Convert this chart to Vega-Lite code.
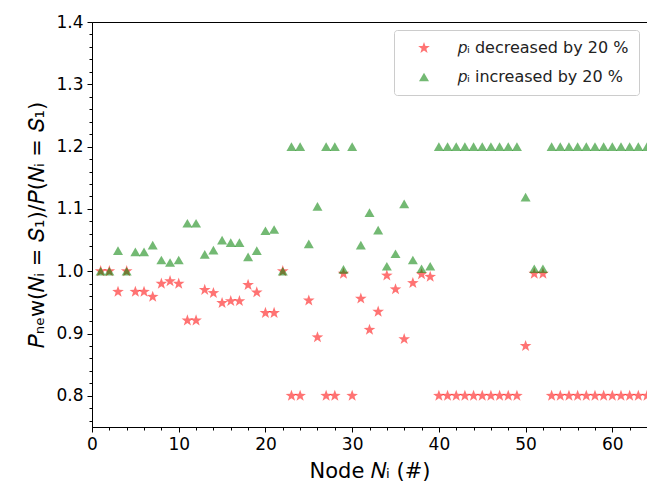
{
  "$schema": "https://vega.github.io/schema/vega-lite/v6.json",
  "width": 555,
  "height": 405,
  "autosize": {"type": "none"},
  "padding": {"left": 92, "top": 22, "right": 0, "bottom": 62},
  "background": "white",
  "config": {
    "font": "DejaVu Sans",
    "view": {"stroke": "black", "strokeWidth": 1},
    "axis": {"grid": false, "domainColor": "black", "tickColor": "black", "labelColor": "black", "titleColor": "black", "labelFont": "DejaVu Sans", "titleFont": "DejaVu Sans", "labelFontSize": 17, "titleFontSize": 21, "titleFontWeight": "normal"}
  },
  "data": {"values": [
    {"node": 1, "series": "dec", "ratio": 1.0},
    {"node": 2, "series": "dec", "ratio": 1.0},
    {"node": 3, "series": "dec", "ratio": 0.967},
    {"node": 4, "series": "dec", "ratio": 1.0},
    {"node": 5, "series": "dec", "ratio": 0.967},
    {"node": 6, "series": "dec", "ratio": 0.967},
    {"node": 7, "series": "dec", "ratio": 0.959},
    {"node": 8, "series": "dec", "ratio": 0.980},
    {"node": 9, "series": "dec", "ratio": 0.984},
    {"node": 10, "series": "dec", "ratio": 0.980},
    {"node": 11, "series": "dec", "ratio": 0.921},
    {"node": 12, "series": "dec", "ratio": 0.921},
    {"node": 13, "series": "dec", "ratio": 0.970},
    {"node": 14, "series": "dec", "ratio": 0.965},
    {"node": 15, "series": "dec", "ratio": 0.949},
    {"node": 16, "series": "dec", "ratio": 0.952},
    {"node": 17, "series": "dec", "ratio": 0.952},
    {"node": 18, "series": "dec", "ratio": 0.978},
    {"node": 19, "series": "dec", "ratio": 0.966},
    {"node": 20, "series": "dec", "ratio": 0.933},
    {"node": 21, "series": "dec", "ratio": 0.933},
    {"node": 22, "series": "dec", "ratio": 1.0},
    {"node": 23, "series": "dec", "ratio": 0.8},
    {"node": 24, "series": "dec", "ratio": 0.8},
    {"node": 25, "series": "dec", "ratio": 0.953},
    {"node": 26, "series": "dec", "ratio": 0.894},
    {"node": 27, "series": "dec", "ratio": 0.8},
    {"node": 28, "series": "dec", "ratio": 0.8},
    {"node": 29, "series": "dec", "ratio": 0.996},
    {"node": 30, "series": "dec", "ratio": 0.8},
    {"node": 31, "series": "dec", "ratio": 0.956},
    {"node": 32, "series": "dec", "ratio": 0.906},
    {"node": 33, "series": "dec", "ratio": 0.935},
    {"node": 34, "series": "dec", "ratio": 0.993},
    {"node": 35, "series": "dec", "ratio": 0.971},
    {"node": 36, "series": "dec", "ratio": 0.891},
    {"node": 37, "series": "dec", "ratio": 0.981},
    {"node": 38, "series": "dec", "ratio": 0.995},
    {"node": 39, "series": "dec", "ratio": 0.991},
    {"node": 40, "series": "dec", "ratio": 0.8},
    {"node": 41, "series": "dec", "ratio": 0.8},
    {"node": 42, "series": "dec", "ratio": 0.8},
    {"node": 43, "series": "dec", "ratio": 0.8},
    {"node": 44, "series": "dec", "ratio": 0.8},
    {"node": 45, "series": "dec", "ratio": 0.8},
    {"node": 46, "series": "dec", "ratio": 0.8},
    {"node": 47, "series": "dec", "ratio": 0.8},
    {"node": 48, "series": "dec", "ratio": 0.8},
    {"node": 49, "series": "dec", "ratio": 0.8},
    {"node": 50, "series": "dec", "ratio": 0.880},
    {"node": 51, "series": "dec", "ratio": 0.996},
    {"node": 52, "series": "dec", "ratio": 0.996},
    {"node": 53, "series": "dec", "ratio": 0.8},
    {"node": 54, "series": "dec", "ratio": 0.8},
    {"node": 55, "series": "dec", "ratio": 0.8},
    {"node": 56, "series": "dec", "ratio": 0.8},
    {"node": 57, "series": "dec", "ratio": 0.8},
    {"node": 58, "series": "dec", "ratio": 0.8},
    {"node": 59, "series": "dec", "ratio": 0.8},
    {"node": 60, "series": "dec", "ratio": 0.8},
    {"node": 61, "series": "dec", "ratio": 0.8},
    {"node": 62, "series": "dec", "ratio": 0.8},
    {"node": 63, "series": "dec", "ratio": 0.8},
    {"node": 64, "series": "dec", "ratio": 0.8},
    {"node": 1, "series": "inc", "ratio": 1.0},
    {"node": 2, "series": "inc", "ratio": 1.0},
    {"node": 3, "series": "inc", "ratio": 1.033},
    {"node": 4, "series": "inc", "ratio": 1.0},
    {"node": 5, "series": "inc", "ratio": 1.031},
    {"node": 6, "series": "inc", "ratio": 1.031},
    {"node": 7, "series": "inc", "ratio": 1.042},
    {"node": 8, "series": "inc", "ratio": 1.018},
    {"node": 9, "series": "inc", "ratio": 1.014},
    {"node": 10, "series": "inc", "ratio": 1.018},
    {"node": 11, "series": "inc", "ratio": 1.077},
    {"node": 12, "series": "inc", "ratio": 1.077},
    {"node": 13, "series": "inc", "ratio": 1.027},
    {"node": 14, "series": "inc", "ratio": 1.034},
    {"node": 15, "series": "inc", "ratio": 1.050},
    {"node": 16, "series": "inc", "ratio": 1.046},
    {"node": 17, "series": "inc", "ratio": 1.046},
    {"node": 18, "series": "inc", "ratio": 1.023},
    {"node": 19, "series": "inc", "ratio": 1.033},
    {"node": 20, "series": "inc", "ratio": 1.065},
    {"node": 21, "series": "inc", "ratio": 1.067},
    {"node": 22, "series": "inc", "ratio": 1.0},
    {"node": 23, "series": "inc", "ratio": 1.2},
    {"node": 24, "series": "inc", "ratio": 1.2},
    {"node": 25, "series": "inc", "ratio": 1.044},
    {"node": 26, "series": "inc", "ratio": 1.104},
    {"node": 27, "series": "inc", "ratio": 1.2},
    {"node": 28, "series": "inc", "ratio": 1.2},
    {"node": 29, "series": "inc", "ratio": 1.003},
    {"node": 30, "series": "inc", "ratio": 1.2},
    {"node": 31, "series": "inc", "ratio": 1.042},
    {"node": 32, "series": "inc", "ratio": 1.094},
    {"node": 33, "series": "inc", "ratio": 1.066},
    {"node": 34, "series": "inc", "ratio": 1.008},
    {"node": 35, "series": "inc", "ratio": 1.028},
    {"node": 36, "series": "inc", "ratio": 1.108},
    {"node": 37, "series": "inc", "ratio": 1.018},
    {"node": 38, "series": "inc", "ratio": 1.004},
    {"node": 39, "series": "inc", "ratio": 1.008},
    {"node": 40, "series": "inc", "ratio": 1.2},
    {"node": 41, "series": "inc", "ratio": 1.2},
    {"node": 42, "series": "inc", "ratio": 1.2},
    {"node": 43, "series": "inc", "ratio": 1.2},
    {"node": 44, "series": "inc", "ratio": 1.2},
    {"node": 45, "series": "inc", "ratio": 1.2},
    {"node": 46, "series": "inc", "ratio": 1.2},
    {"node": 47, "series": "inc", "ratio": 1.2},
    {"node": 48, "series": "inc", "ratio": 1.2},
    {"node": 49, "series": "inc", "ratio": 1.2},
    {"node": 50, "series": "inc", "ratio": 1.119},
    {"node": 51, "series": "inc", "ratio": 1.004},
    {"node": 52, "series": "inc", "ratio": 1.004},
    {"node": 53, "series": "inc", "ratio": 1.2},
    {"node": 54, "series": "inc", "ratio": 1.2},
    {"node": 55, "series": "inc", "ratio": 1.2},
    {"node": 56, "series": "inc", "ratio": 1.2},
    {"node": 57, "series": "inc", "ratio": 1.2},
    {"node": 58, "series": "inc", "ratio": 1.2},
    {"node": 59, "series": "inc", "ratio": 1.2},
    {"node": 60, "series": "inc", "ratio": 1.2},
    {"node": 61, "series": "inc", "ratio": 1.2},
    {"node": 62, "series": "inc", "ratio": 1.2},
    {"node": 63, "series": "inc", "ratio": 1.2},
    {"node": 64, "series": "inc", "ratio": 1.2}
  ]},
  "mark": {"type": "point", "filled": true, "clip": true, "fillOpacity": 0.55, "strokeOpacity": 0.55, "strokeWidth": 1},
  "encoding": {
    "x": {"field": "node", "type": "quantitative",
      "scale": {"domain": [0, 64], "nice": false, "zero": false},
      "axis": {"title": "Node 𝑁ᵢ (#)", "titlePadding": 8,
        "values": [0,2,4,6,8,10,12,14,16,18,20,22,24,26,28,30,32,34,36,38,40,42,44,46,48,50,52,54,56,58,60,62,64],
        "labelExpr": "datum.value % 10 === 0 ? datum.label : ''",
        "tickSize": {"condition": {"test": "datum.value % 10 === 0", "value": 5}, "value": 3},
        "labelPadding": 4, "labelFlush": false, "labelOverlap": false}},
    "y": {"field": "ratio", "type": "quantitative",
      "scale": {"domain": [0.75, 1.4], "nice": false, "zero": false},
      "axis": {"title": "𝑃ₙₑw(𝑁ᵢ = 𝑆₁)/𝑃(𝑁ᵢ = 𝑆₁)", "titlePadding": 8,
        "values": [0.76,0.78,0.8,0.82,0.84,0.86,0.88,0.9,0.92,0.94,0.96,0.98,1.0,1.02,1.04,1.06,1.08,1.1,1.12,1.14,1.16,1.18,1.2,1.22,1.24,1.26,1.28,1.3,1.32,1.34,1.36,1.38,1.4],
        "labelExpr": "round(datum.value*100) % 10 === 0 ? format(datum.value, '.1f') : ''",
        "tickSize": {"condition": {"test": "round(datum.value*100) % 10 === 0", "value": 5}, "value": 3},
        "labelPadding": 4, "labelOverlap": false, "labelFlush": false}},
    "size": {"field": "series", "type": "nominal",
      "scale": {"domain": ["dec", "inc"], "range": [150, 100]},
      "legend": null},
    "color": {"field": "series", "type": "nominal",
      "scale": {"domain": ["dec", "inc"], "range": ["#ff0000", "#008000"]},
      "legend": {"title": null, "orient": "top-right", "offset": 8,
        "labelExpr": "datum.value === 'dec' ? '𝑝ᵢ decreased by 20 %' : '𝑝ᵢ increased by 20 %'",
        "labelFontSize": 16, "labelLimit": 400, "labelColor": "#222", "labelOffset": 26, "symbolOffset": 12, "symbolSize": 40, "rowPadding": 13,
        "padding": 10, "strokeColor": "#cccccc", "fillColor": "white", "cornerRadius": 3, "symbolOpacity": 0.55}},
    "shape": {"field": "series", "type": "nominal",
      "scale": {"domain": ["dec", "inc"], "range": ["M0,-1L0.235,-0.324L0.951,-0.309L0.38,0.124L0.588,0.809L0,0.4L-0.588,0.809L-0.38,0.124L-0.951,-0.309L-0.235,-0.324Z", "triangle-up"]},
      "legend": null}
  }
}
